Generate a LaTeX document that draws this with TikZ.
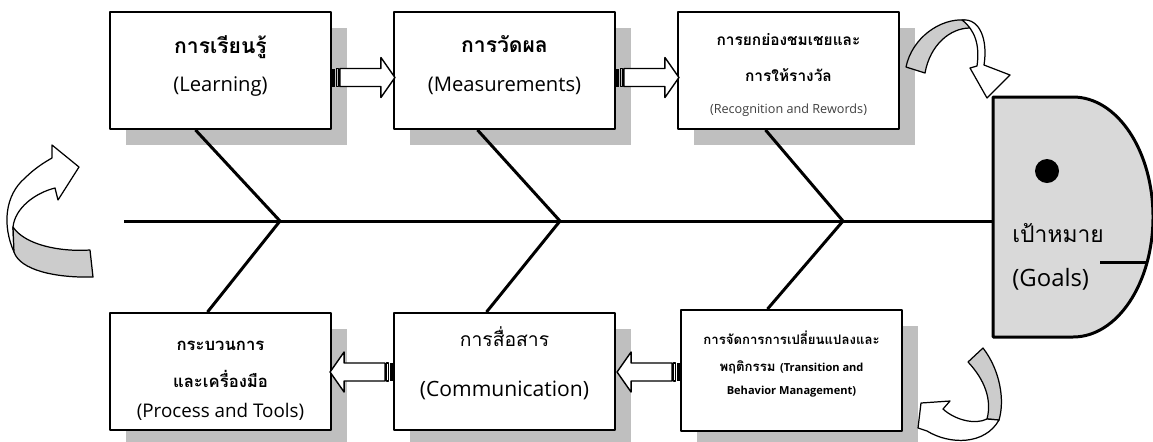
\documentclass[tikz,border=0pt]{standalone}
\usepackage{fontspec}
\setmainfont{Open Sans}
\newfontfamily\thaifont[Script=Thai]{Loma}
\usetikzlibrary{calc,shadows}
\begin{document}
\begin{tikzpicture}[x=0.02cm,y=-0.02cm,line join=round]
	\definecolor{bonggray}{rgb}{0.75, 0.75, 0.75}
	\definecolor{daugray}{rgb}{0.85, 0.85, 0.85}
	\definecolor{vienggray}{rgb}{0.8, 0.8, 0.8}
	\useasboundingbox (0,0) rectangle (1153,441);
	\def\TH#1#2{{\fontsize{#1}{#1}\selectfont\thaifont\bfseries #2}}
	\def\EN#1#2{{\fontsize{#1}{#1}\selectfont #2}}
	\tikzset{
		khung/.style={draw,line width=1.1pt,fill=white,minimum width=4.42cm,minimum height=2.34cm,
			align=center,inner sep=2pt,
			drop shadow={shadow xshift=0.32cm,shadow yshift=-0.32cm,fill=bonggray,opacity=1}},
		xuong/.style={line width=1.7pt},
		muiten/.pic={
			\fill (0,-9) rectangle (3.5,9);
			\draw[line width=0.6pt] (5,-9) rectangle (7,9);
			\draw[fill=white,line width=0.8pt] (8,-9)--(49,-9)--(49,-20)--(63,0)--(49,20)--(49,9)--(8,9)--cycle;
	}}
	
	\node[khung,text depth=8pt] (hoc) at (220.5,70.5) {\TH{12}{การเรียนรู้}\\[10pt] \EN{11.5}{(Learning)}};
	\node[khung,text depth=8pt] (do) at (504.5,70.5) {\TH{12}{การวัดผล}\\[10pt] \EN{11.5}{(Measurements)}};
	\node[khung] (khen) at (788.5,70.5) {\rule{0pt}{12pt}\TH{8.8}{การยกย่องชมเชยและ}\\[8.5pt]
		\TH{8.8}{การให้รางวัล}\\[6pt] \EN{7.2}{\color{darkgray}(Recognition and Rewords)}};
	\node[khung] (cong) at (220.5,371.5) {\rule{0pt}{16pt}\TH{9.5}{กระบวนการ}\\[9pt]
		\TH{9.5}{และเครื่องมือ}\\[5.5pt] \EN{10.7}{(Process and Tools)}};
	\node[khung,text depth=15pt] (truyen) at (504.5,371.5) {\rule{0pt}{15pt}{\fontsize{11}{11}\selectfont\thaifont การสื่อสาร}\\[17pt]
		\EN{12}{(Communication)}};
	\node[khung,minimum height=2.42cm,text depth=8.5pt] (doi) at (791.5,370.5) {\TH{7.5}{การจัดการการเปลี่ยนแปลงและ}\\[3pt]
		\TH{7.5}{พฤติกรรม} \EN{6.3}{\bfseries(Transition and}\\[1.5pt] \EN{6.3}{\bfseries Behavior Management)}};
	%%%%%%%%%%%%%%%%%%
	
	\path (hoc.east) ++(0,7) pic{muiten};
	\path (do.east) ++(0,7) pic{muiten};
	\path (doi.west) ++(0,1.5) pic[rotate=180]{muiten};
	\path (truyen.west) ++(0,0.5) pic[rotate=180]{muiten};
	
	\coordinate (duoi) at (124,221);
	\coordinate (j1) at (280,221);
	\coordinate (j2) at (560,221);
	\coordinate (j3) at (843,221);
	\coordinate (mang) at (993,221);
	\draw[xuong] (duoi)--(mang);
	\draw[xuong] ($(hoc.south)+(-25,0)$)--(j1)--($(cong.north)+(-13,0)$);
	\draw[xuong] ($(do.south)+(-27,0)$)--(j2)--($(truyen.north)+(-18,0)$);
	\draw[xuong] ($(khen.south)+(-23,0)$)--(j3)--($(doi.north)+(-24,0)$);
	
	%dau ca
	\filldraw[fill=daugray,line width=1.7pt] (993,97)--(1073,97)
	..controls (1117.2,97) and (1153,150.7) .. (1153,217)
	..controls (1153,283.3) and (1117.2,337) .. (1073,337)--(993,337)--cycle;
	\draw[line width=1.7pt] (1100,262)--(1147,262);
	\fill (1047,171) circle[radius=0.24cm];
	\node[anchor=west,inner sep=0pt] (muctieu) at (1012,233) {\fontsize{13}{13}\selectfont\thaifont เป้าหมาย};
	\node[anchor=west,inner sep=0pt] (goals) at (1012,279) {\EN{13.6}{(Goals)}};
	
	%mui ten cong
	\filldraw[fill=vienggray,line width=0.7pt] (906,67)
	..controls (912,38) and (940,18) .. (965,20)--(970,28)
	..controls (950,28) and (930,45) .. (925,73)--cycle;
	\filldraw[fill=white,line width=0.7pt] (962,20)
	..controls (980,18) and (988,40) .. (984,65)--(1010,75)--(987,98)--(970,68)--(977,66)
	..controls (980,45) and (975,30) .. (962,20)--cycle;
	
	\filldraw[fill=vienggray,line width=0.7pt] (983,348)
	..controls (1000,370) and (1005,400) .. (999,420)--(987,419)
	..controls (992,400) and (985,380) .. (968,362)--cycle;
	\filldraw[fill=white,line width=0.7pt] (950,401)--(921,403)--(918,428)--(927,431)
	..controls (950,445) and (985,445) .. (999,420)--(987,419)
	..controls (975,425) and (955,420) .. (943,409)--cycle;
	
	\filldraw[fill=white,line width=0.7pt] (52,158)--(52,145)--(79,167)--(58,200)--(55,188)
	..controls (35,193) and (15,208) .. (13,227)--(14,252)
	..controls (2,225) and (5,195) .. (25,178)
	..controls (35,168) and (45,162) .. (52,158)--cycle;
	\filldraw[fill=vienggray,line width=0.7pt] (13,227)
	..controls (25,245) and (60,252) .. (90,250)--(93,277)
	..controls (55,278) and (20,270) .. (14,252)--cycle;
\end{tikzpicture}
\end{document}
